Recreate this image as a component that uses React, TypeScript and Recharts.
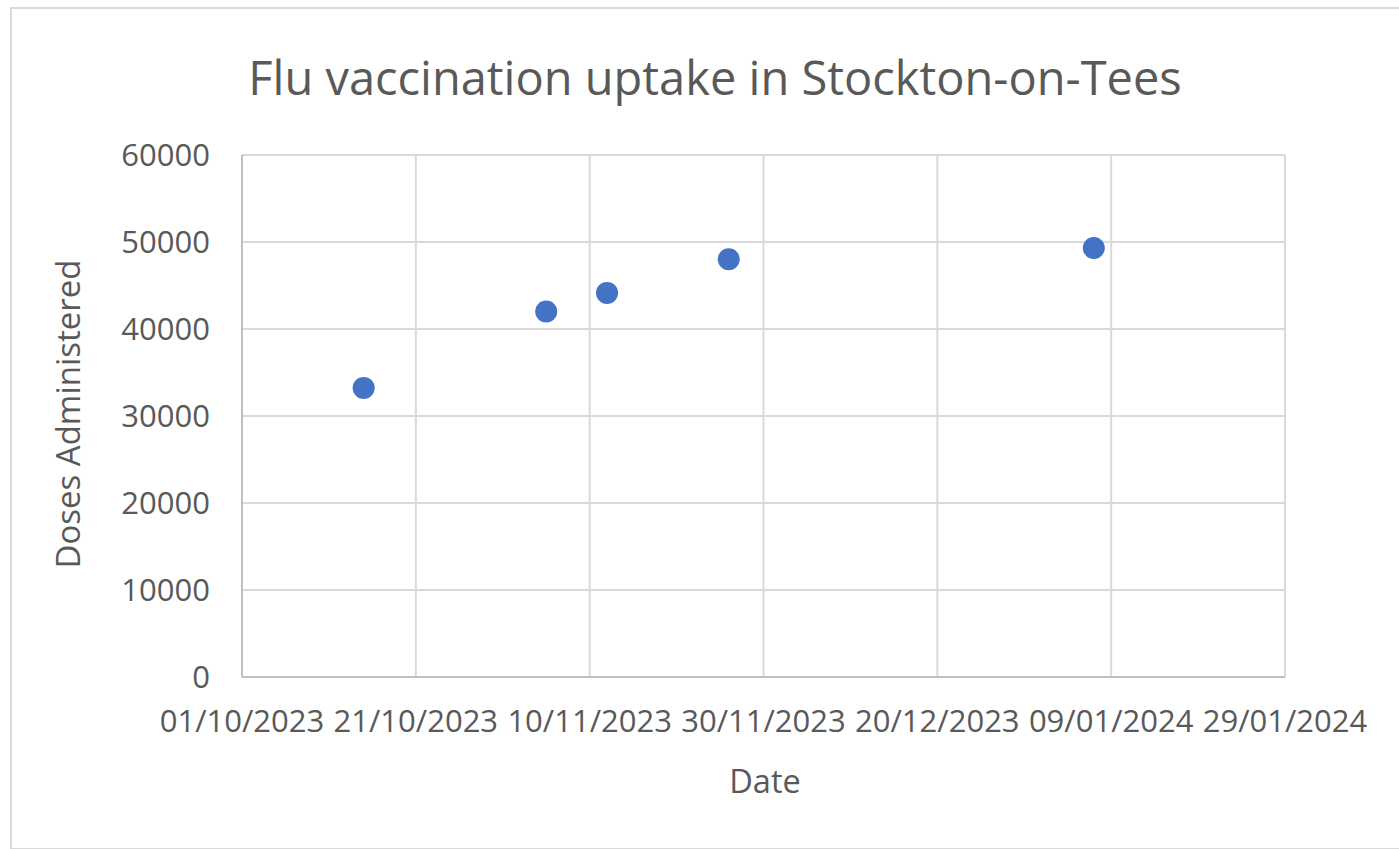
import React from "react";
import {
  ScatterChart,
  Scatter,
  XAxis,
  YAxis,
  CartesianGrid,
} from "recharts";

// Weekly reporting dates (dd/mm/yyyy) and cumulative doses
const dates = ["15/10/2023", "05/11/2023", "12/11/2023", "26/11/2023", "07/01/2024"];
const doses = [33230, 42010, 44150, 48020, 49320];

const xTickLabels = [
  "01/10/2023",
  "21/10/2023",
  "10/11/2023",
  "30/11/2023",
  "20/12/2023",
  "09/01/2024",
  "29/01/2024",
];
const yTicks = [0, 10000, 20000, 30000, 40000, 50000, 60000];

const toTime = (s: string) => {
  const [d, m, y] = s.split("/").map(Number);
  return Date.UTC(y, m - 1, d);
};

const fmtDate = (t: number) => {
  const d = new Date(t);
  const dd = String(d.getUTCDate()).padStart(2, "0");
  const mm = String(d.getUTCMonth() + 1).padStart(2, "0");
  return `${dd}/${mm}/${d.getUTCFullYear()}`;
};

const data = dates.map((d, i) => ({ date: toTime(d), doses: doses[i] }));
const xTicks = xTickLabels.map(toTime);

const FONT = "'Open Sans', sans-serif";
const GRID = "#d9d9d9";
const TEXT = "#595959";

export default function App() {
  return (
    <div
      style={{
        position: "absolute",
        left: 0,
        top: 0,
        width: 1399,
        height: 849,
        background: "#fff",
        overflow: "hidden",
        fontFamily: FONT,
      }}
    >
      <div
        style={{
          position: "absolute",
          left: 10,
          top: 7,
          width: 1400,
          height: 839,
          border: `2px solid ${GRID}`,
        }}
      />
      <div style={{ position: "absolute", left: 0, top: 0 }}>
        <ScatterChart
          width={1399}
          height={849}
          margin={{ top: 155, right: 114, bottom: 132, left: 22 }}
        >
          <CartesianGrid stroke={GRID} strokeWidth={2} />
          <XAxis
            type="number"
            dataKey="date"
            domain={[xTicks[0], xTicks[xTicks.length - 1]]}
            ticks={xTicks}
            tickFormatter={fmtDate}
            interval={0}
            height={40}
            tickLine={false}
            tickSize={0}
            tickMargin={33}
            axisLine={{ stroke: "#bfbfbf", strokeWidth: 2 }}
            tick={{ fill: TEXT, fontSize: 31, fontFamily: FONT }}
          />
          <YAxis
            type="number"
            dataKey="doses"
            domain={[0, 60000]}
            ticks={yTicks}
            interval={0}
            width={220}
            tickLine={false}
            tickSize={0}
            tickMargin={32}
            axisLine={{ stroke: "#bfbfbf", strokeWidth: 2 }}
            tick={{ fill: TEXT, fontSize: 31, fontFamily: FONT }}
          />
          <Scatter
            data={data}
            fill="#4472c4"
            isAnimationActive={false}
            shape={(p: any) => <circle cx={p.cx} cy={p.cy} r={11} fill="#4472c4" />}
          />
        </ScatterChart>
      </div>
      <svg
        width={1399}
        height={849}
        style={{ position: "absolute", left: 0, top: 0, pointerEvents: "none" }}
      >
        <text
          x={715}
          y={77}
          textAnchor="middle"
          dominantBaseline="central"
          fill={TEXT}
          fontSize={47}
          fontFamily={FONT}
        >
          Flu vaccination uptake in Stockton-on-Tees
        </text>
        <text
          x={765}
          y={780}
          textAnchor="middle"
          dominantBaseline="central"
          fill={TEXT}
          fontSize={32.5}
          fontFamily={FONT}
        >
          Date
        </text>
        <text
          x={67}
          y={414}
          textAnchor="middle"
          dominantBaseline="central"
          fill={TEXT}
          fontSize={33}
          fontFamily={FONT}
          transform="rotate(-90 67 414)"
        >
          Doses Administered
        </text>
      </svg>
    </div>
  );
}
